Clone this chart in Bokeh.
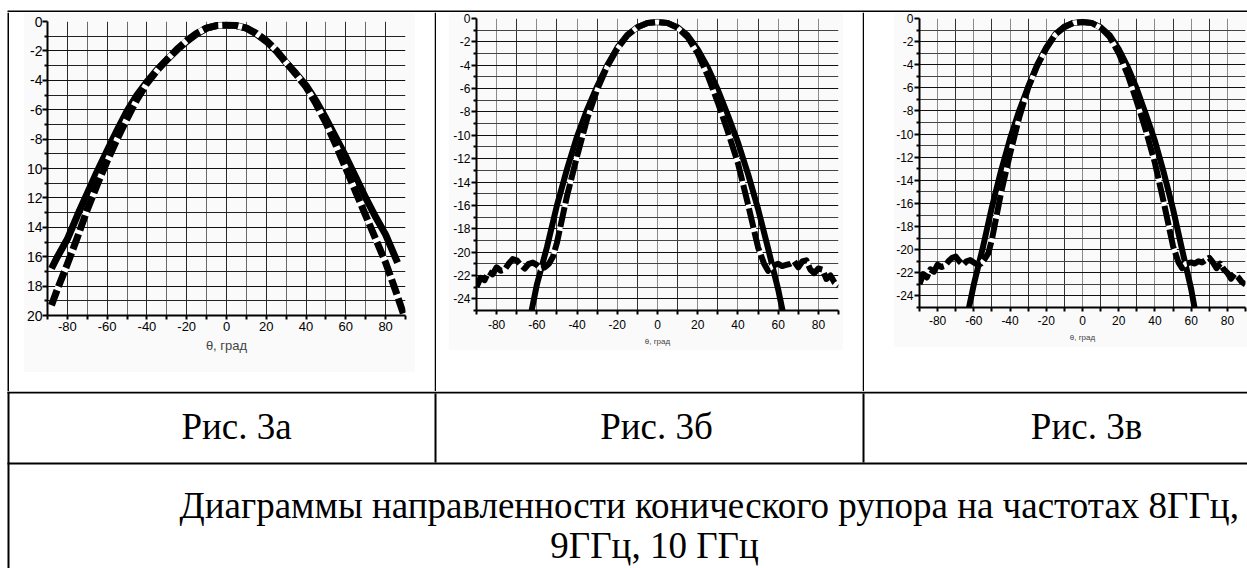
from bokeh.plotting import figure
from bokeh.models import Range1d, FixedTicker, Spacer
from bokeh.layouts import column, row
from bokeh.embed import file_html
from bokeh.resources import INLINE
from bokeh.core.properties import value

# ---- radiation patterns of the conical horn, dB vs angle (deg) ----
# 8 GHz
theta_a_solid = [-88, -85, -80, -75, -70, -65, -60, -55, -50, -45, -40, -35, -30, -25, -20, -15, -10, -5,
                 0, 5, 10, 15, 20, 25, 30, 35, 40, 45, 50, 55, 60, 65, 70, 75, 80, 86]
gain_a_solid = [-16.8, -16.0, -14.8, -13.2, -11.7, -10.2, -8.8, -7.4, -6.1, -5.0, -4.1, -3.3, -2.6, -1.95, -1.35, -0.85, -0.45, -0.28,
                -0.25, -0.28, -0.45, -0.85, -1.35, -2.0, -2.8, -3.55, -4.35, -5.4, -6.6, -7.9, -9.2, -10.6, -12.0, -13.3, -14.5, -16.4]
theta_a_dash = [-88, -85, -80, -75, -70, -65, -60, -55, -50, -45, -40, -35, -30, -25, -20, -15, -10, -5,
                0, 5, 10, 15, 20, 25, 30, 35, 40, 45, 50, 55, 60, 65, 70, 75, 80, 85, 90]
gain_a_dash = [-19.3, -18.2, -16.5, -14.7, -12.8, -11.1, -9.5, -8.0, -6.6, -5.3, -4.2, -3.35, -2.6, -1.9, -1.3, -0.8, -0.45, -0.28,
               -0.25, -0.28, -0.45, -0.8, -1.3, -1.95, -2.8, -3.6, -4.45, -5.6, -6.9, -8.4, -10.0, -11.6, -13.2, -14.8, -16.4, -18.3, -20.3]

# 9 GHz
theta_b_solid = [-64, -60, -55, -50, -45, -40, -35, -30, -25, -20, -15, -10, -5,
                 0, 5, 10, 15, 20, 25, 30, 35, 40, 45, 50, 55, 60, 64]
gain_b_solid = [-26.2, -22.8, -19.6, -16.0, -12.9, -10.1, -7.8, -5.8, -4.0, -2.5, -1.4, -0.75, -0.38,
                -0.3, -0.38, -0.75, -1.45, -2.65, -4.2, -6.1, -8.3, -10.6, -13.3, -16.3, -19.7, -23.2, -26.5]
theta_b_dash = [-90, -88, -86, -84, -82, -80, -78, -76, -74, -72, -70, -68, -66, -64, -62, -60, -58, -56, -54, -52,
                -50, -45, -40, -35, -30, -25, -20, -15, -10, -5, 0, 5, 10, 15, 20, 25, 30, 35, 40, 45, 50,
                53, 55, 57, 60, 62, 64, 66, 68, 70, 72, 74, 76, 78, 80, 82, 84, 86, 88, 90]
gain_b_dash = [-23.0, -22.2, -22.4, -21.7, -21.9, -21.3, -21.6, -21.5, -21.0, -20.6, -20.7, -21.1, -21.4, -21.0, -20.9, -21.1, -21.4, -21.3, -21.0, -20.4,
               -19.2, -15.2, -11.8, -8.6, -6.1, -4.1, -2.6, -1.45, -0.75, -0.38, -0.3, -0.38, -0.8, -1.6, -3.0, -4.9, -7.2, -9.7, -12.4, -15.9, -19.6,
               -21.0, -21.6, -21.2, -21.0, -21.2, -21.1, -21.0, -20.8, -21.3, -20.8, -20.7, -21.5, -21.8, -21.4, -21.5, -22.3, -22.0, -22.6, -22.9]

# 10 GHz
theta_c_solid = [-64, -60, -55, -50, -45, -40, -35, -30, -25, -20, -15, -10, -5,
                 0, 5, 10, 15, 20, 25, 30, 35, 40, 45, 50, 55, 60, 63]
gain_c_solid = [-26.0, -23.0, -19.8, -16.3, -13.2, -10.4, -8.0, -5.9, -4.0, -2.5, -1.35, -0.7, -0.38,
                -0.3, -0.38, -0.75, -1.45, -2.65, -4.2, -6.1, -8.3, -10.6, -13.4, -16.5, -20.0, -23.4, -26.0]
theta_c_dash = [-90, -88, -86, -84, -82, -80, -78, -76, -74, -72, -70, -68, -66, -64, -62, -60, -58, -56, -54, -52,
                -50, -45, -40, -35, -30, -25, -20, -15, -10, -5, 0, 5, 10, 15, 20, 25, 30, 35, 40, 45, 50,
                53, 55, 57, 60, 62, 64, 66, 68, 70, 72, 74, 76, 78, 80, 82, 84, 86, 88, 90]
gain_c_dash = [-23.0, -22.1, -22.4, -21.7, -21.9, -21.3, -21.5, -21.4, -21.0, -20.7, -20.6, -21.0, -21.3, -21.0, -20.9, -21.1, -21.3, -21.2, -20.8, -20.3,
               -19.1, -15.1, -11.7, -8.6, -6.0, -4.1, -2.6, -1.4, -0.75, -0.38, -0.3, -0.38, -0.8, -1.6, -3.0, -4.9, -7.2, -9.7, -12.5, -16.0, -19.7,
               -21.1, -21.6, -21.2, -21.1, -21.2, -21.0, -21.1, -20.9, -20.7, -21.1, -21.6, -21.2, -21.7, -22.0, -22.5, -22.1, -22.4, -22.8, -23.0]

# axis ticks
x_major = [-80, -60, -40, -20, 0, 20, 40, 60, 80]
x_minor = [-90, -70, -50, -30, -10, 10, 30, 50, 70, 90]
y_major_a = [0, -2, -4, -6, -8, -10, -12, -14, -16, -18, -20]
y_minor_a = [-1, -3, -5, -7, -9, -11, -13, -15, -17, -19]
y_major_bc = [0, -2, -4, -6, -8, -10, -12, -14, -16, -18, -20, -22, -24]
y_minor_bc = [-1, -3, -5, -7, -9, -11, -13, -15, -17, -19, -21, -23, -25]
y_labels_a = ["0", "-2", "-4", "-6", "-8", "10", "12", "14", "16", "18", "20"]
axis_title = "θ, град"

captions = ["Рис. 3а", "Рис. 3б", "Рис. 3в"]
title_line1 = "Диаграммы направленности конического рупора на частотах 8ГГц,"
title_line2 = "9ГГц, 10 ГГц"

SANS = "Liberation Sans"
SERIF = "Liberation Serif"
PAPER = "#fafafa"


def pattern_chart(width, height, borders, y_bottom, y_major, y_minor, y_labels, solid, dashed, st):
    left, right, top, bottom = borders
    p = figure(width=width, height=height, x_range=Range1d(-90, 90), y_range=Range1d(y_bottom, 0),
               output_backend="svg", toolbar_location=None,
               min_border_left=left, min_border_right=right, min_border_top=top, min_border_bottom=bottom)
    p.background_fill_color = PAPER
    p.border_fill_color = PAPER
    p.outline_line_color = None

    xt = FixedTicker(ticks=x_major, minor_ticks=x_minor)
    yt = FixedTicker(ticks=y_major, minor_ticks=y_minor)
    p.xaxis.ticker = xt
    p.yaxis.ticker = yt
    p.xgrid.ticker = xt
    p.ygrid.ticker = yt
    # plain hyphen minus signs on the tick labels
    p.xaxis.major_label_overrides = {v: str(v) for v in x_major}
    p.yaxis.major_label_overrides = dict(zip(y_major, y_labels))

    p.xgrid.grid_line_color = st["vmajor"]
    p.xgrid.minor_grid_line_color = st["vminor"]
    p.ygrid.grid_line_color = "#111111"
    p.ygrid.minor_grid_line_color = st["hminor"]
    for g in (p.xgrid, p.ygrid):
        g.grid_line_width = 1
        g.minor_grid_line_width = 1
        g.grid_line_alpha = 1
        g.minor_grid_line_alpha = 1

    for ax in (p.xaxis, p.yaxis):
        ax.axis_line_width = 2
        ax.axis_line_color = "black"
        ax.major_tick_line_color = "black"
        ax.minor_tick_line_color = "black"
        ax.major_tick_line_width = 2
        ax.minor_tick_line_width = 2
        ax.major_tick_in = 0
        ax.minor_tick_in = 0
        ax.major_label_text_font = SANS
        ax.major_label_text_color = "black"
    p.xaxis.major_tick_out = 4
    p.xaxis.minor_tick_out = 4
    p.yaxis.major_tick_out = 5
    p.yaxis.minor_tick_out = 3
    p.xaxis.major_label_text_font_size = st["xfont"]
    p.yaxis.major_label_text_font_size = st["yfont"]
    p.xaxis.major_label_standoff = st["xstand"]
    p.yaxis.major_label_standoff = st["ystand"]

    p.xaxis.axis_label = axis_title
    p.xaxis.axis_label_text_font = SANS
    p.xaxis.axis_label_text_font_style = "normal"
    p.xaxis.axis_label_text_font_size = st["tfont"]
    p.xaxis.axis_label_standoff = st["tstand"]

    sx, sy = solid
    dx, dy = dashed
    p.line(sx, sy, line_color="black", line_width=st["lw"], line_join="round")
    p.line(dx, dy, line_color="white", line_width=st["lw"] - 1, line_join="round")
    p.line(dx, dy, line_color="black", line_width=st["lw"], line_dash=st["dash"], line_join="round")
    return p


def block(width, height, y_top, y_bottom, rects):
    """Plain canvas in page pixels for the table rules."""
    p = figure(width=width, height=height, x_range=Range1d(0, width), y_range=Range1d(y_bottom, y_top),
               output_backend="svg", toolbar_location=None, x_axis_type=None, y_axis_type=None,
               min_border=0)
    p.grid.visible = False
    p.outline_line_color = None
    p.background_fill_color = "white"
    p.border_fill_color = "white"
    if rects:
        l, r, t, b = zip(*rects)
        p.quad(left=list(l), right=list(r), top=list(t), bottom=list(b), fill_color="black", line_color=None)
    return p


style_a = dict(vmajor="#2a2a2a", vminor="#6a6a6a", hminor="#222222", xfont="13px", yfont="14px",
               xstand=2, ystand=0, tfont="13px", tstand=4, lw=7, dash="16 4")
style_b = dict(vmajor="#8a8a8a", vminor="#333333", hminor="#444444", xfont="12px", yfont="12px",
               xstand=5, ystand=1, tfont="8px", tstand=5, lw=6, dash="20 4")
style_c = dict(vmajor="#8a8a8a", vminor="#333333", hminor="#444444", xfont="12px", yfont="12px",
               xstand=4, ystand=1, tfont="8px", tstand=5, lw=6, dash="20 4")

y_labels_bc = [str(v) for v in y_major_bc]

chart_a = pattern_chart(392, 360, (21, 10, 9, 57), -20, y_major_a, y_minor_a, y_labels_a,
                        (theta_a_solid, gain_a_solid), (theta_a_dash, gain_a_dash), style_a)
chart_b = pattern_chart(395, 338, (28, 5, 6, 40), -25, y_major_bc, y_minor_bc, y_labels_bc,
                        (theta_b_solid, gain_b_solid), (theta_b_dash, gain_b_dash), style_b)
chart_c = pattern_chart(354, 335, (25, 2, 6, 40), -25, y_major_bc, y_minor_bc, y_labels_bc,
                        (theta_c_solid, gain_c_solid), (theta_c_dash, gain_c_dash), style_c)

cell_a = column(row(Spacer(width=14, height=360), chart_a, Spacer(width=19, height=360)),
                Spacer(width=425, height=19))
cell_b = column(row(Spacer(width=12, height=338), chart_b, Spacer(width=19, height=338)),
                Spacer(width=426, height=41))
cell_c = column(row(Spacer(width=29, height=335), chart_c), Spacer(width=383, height=44))

top_rule = block(1247, 12, 0, 12, [(7, 1247, 10, 12)])
left_rule = block(9, 379, 12, 391, [(7, 9, 12, 391)])
div_1 = block(2, 379, 12, 391, [(0, 2, 12, 391)])
div_2 = block(2, 379, 12, 391, [(0, 2, 12, 391)])
charts_row = row(left_rule, cell_a, div_1, cell_b, div_2, cell_c)

bottom = block(1247, 177, 391, 568, [
    (7, 9, 391, 568),
    (7, 1247, 391, 393),
    (434, 436, 393, 462),
    (862, 864, 393, 462),
    (7, 1247, 462, 464),
])
text_style = dict(text_font=value(SERIF), text_font_size="37px", text_baseline="alphabetic", text_color="black")
bottom.text(x=[236, 656, 1086], y=[426, 426, 426], text=captions, text_align="center", **text_style)
bottom.text(x=[179], y=[505], text=[title_line1], text_align="left", **text_style)
bottom.text(x=[654], y=[545], text=[title_line2], text_align="center", **text_style)

page = column(top_rule, charts_row, bottom)

open("out.html", "w").write(file_html(page, INLINE))
